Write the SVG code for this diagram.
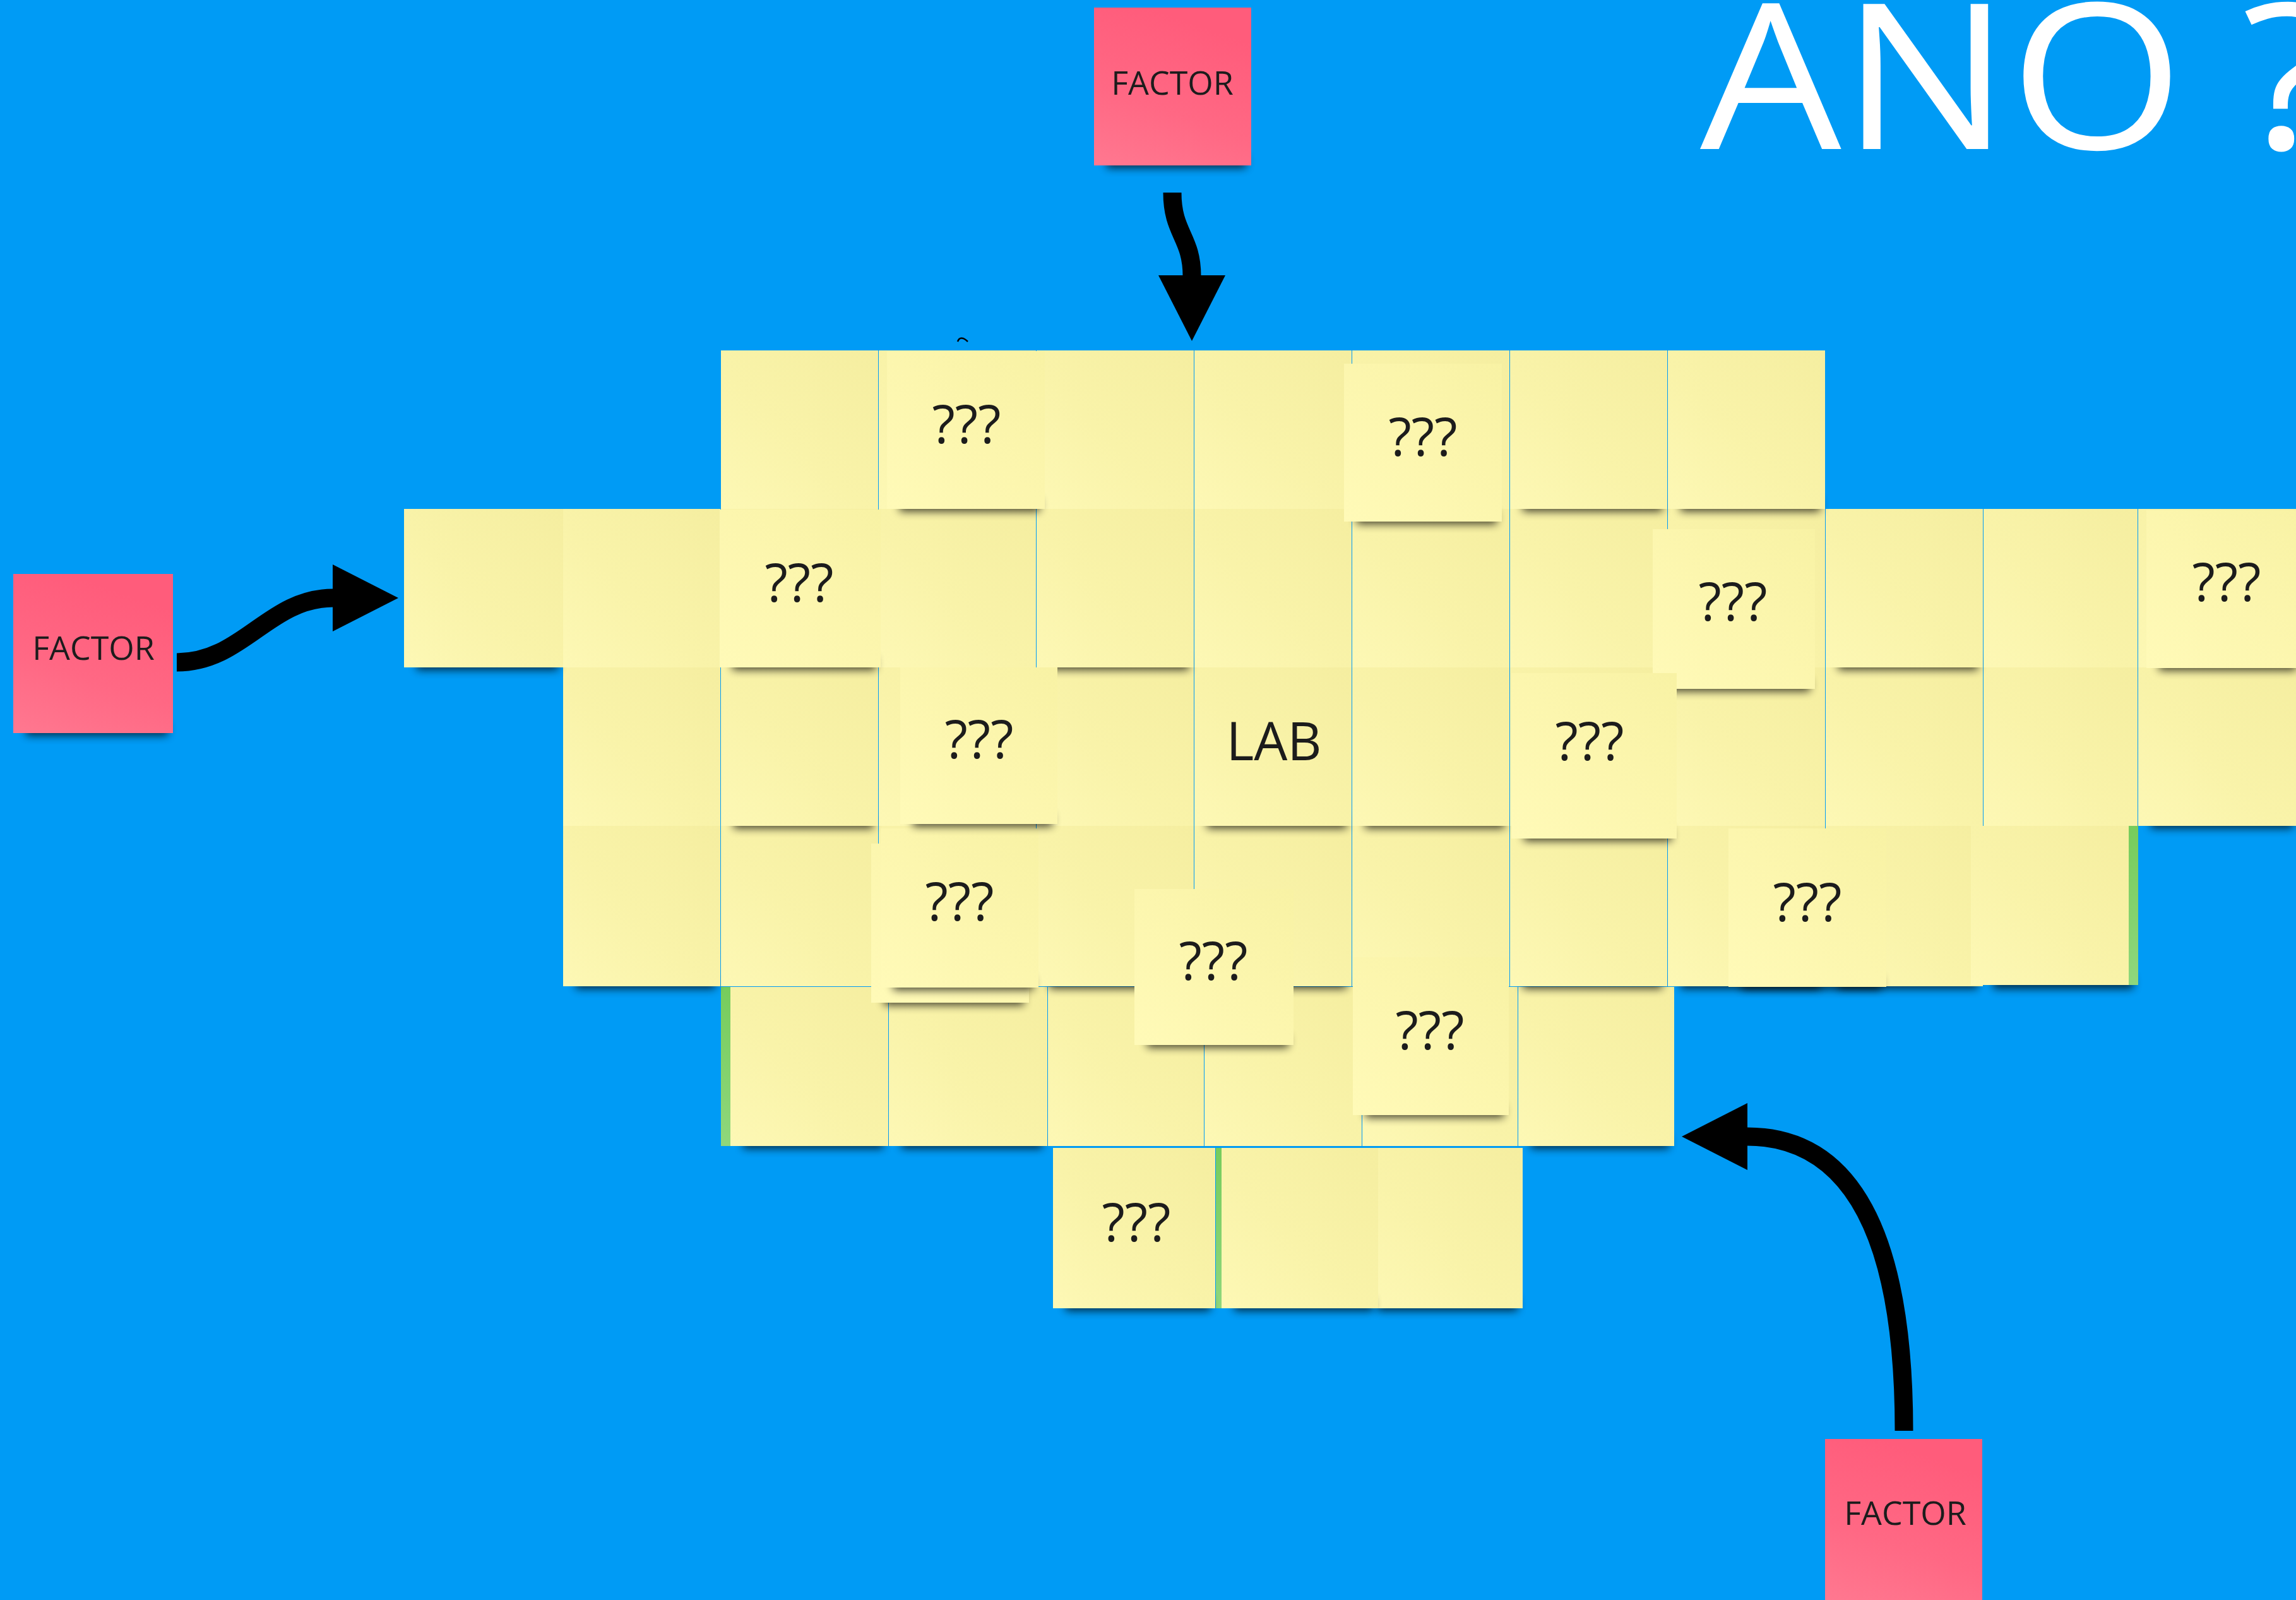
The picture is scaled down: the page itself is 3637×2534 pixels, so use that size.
<svg xmlns="http://www.w3.org/2000/svg" width="3637" height="2534" viewBox="0 0 3637 2534">
<defs>
<linearGradient id="gy" x1="1" y1="0" x2="0" y2="1"><stop offset="0" stop-color="#F5EEA0"/><stop offset="0.55" stop-color="#F9F3A9"/><stop offset="1" stop-color="#FDF8B5"/></linearGradient>
<linearGradient id="go" x1="1" y1="0" x2="0" y2="1"><stop offset="0" stop-color="#F8F2A4"/><stop offset="0.5" stop-color="#FCF6AE"/><stop offset="1" stop-color="#FFFAB8"/></linearGradient>
<linearGradient id="gp" x1="0.35" y1="0" x2="0" y2="1"><stop offset="0" stop-color="#FF5C7B"/><stop offset="0.55" stop-color="#FF6884"/><stop offset="1" stop-color="#FF7890"/></linearGradient>
<linearGradient id="gg" x1="0" y1="0" x2="0" y2="1"><stop offset="0" stop-color="#76CC5C"/><stop offset="1" stop-color="#8FD77C"/></linearGradient>
<filter id="blur" x="-20%" y="-300%" width="140%" height="700%"><feGaussianBlur stdDeviation="7"/></filter>
<marker id="ah" markerUnits="userSpaceOnUse" viewBox="0 0 110 110" markerWidth="110" markerHeight="110" refX="1" refY="53" orient="auto"><path d="M0,0 L104,53 L0,106 Z" fill="#000"/></marker>
</defs>
<style>
.y{fill:url(#gy)}
.o{fill:url(#go)}
.p{fill:url(#gp)}
.g{fill:url(#gg)}
.s{fill:#000;opacity:.72;filter:url(#blur)}
.q{font-family:"Open Sans","Liberation Sans",sans-serif;font-size:84px;fill:#1c1c1c;text-anchor:middle}
.f{font-family:"Open Sans","Liberation Sans",sans-serif;font-size:52px;fill:#1c1c1c;text-anchor:middle}
.t{font-family:"Open Sans","Liberation Sans",sans-serif;font-size:322px;fill:#fff}
.c{fill:none;stroke:#000;stroke-width:29}
</style>
<rect x="0" y="0" width="3637" height="2534" fill="#009BF5"/>
<text class="t" transform="translate(2693,236) scale(1.1,1)">ANO ?</text>

<g id="row5">
<g id="n52"><rect class="s" x="2182" y="2056" width="222" height="20"/><rect class="y" x="2162" y="1818" width="250" height="254"/></g>
<g id="n51"><rect class="s" x="1955" y="2056" width="220" height="20"/><rect class="g" x="1926" y="1818" width="250" height="254"/><rect class="y" x="1935" y="1818" width="248" height="254"/></g>
<g id="n50"><rect class="s" x="1688" y="2056" width="229" height="20"/><rect class="y" x="1668" y="1818" width="257" height="254"/><text class="q" x="1800" y="1966">???</text></g>
</g>

<g id="row4">
<g id="n40"><rect class="s" x="1177" y="1799" width="222" height="20"/><rect class="g" x="1142" y="1563" width="250" height="252"/><rect class="y" x="1157" y="1563" width="250" height="252"/></g>
<g id="n41"><rect class="s" x="1428" y="1799" width="223" height="20"/><rect class="y" x="1408" y="1563" width="251" height="252"/></g>
<g id="n42"><rect class="y" x="1660" y="1563" width="247" height="252"/></g>
<g id="n43"><rect class="y" x="1908" y="1563" width="249" height="252"/></g>
<g id="n44"><rect class="y" x="2158" y="1563" width="246" height="252"/></g>
<g id="n45"><rect class="s" x="2425" y="1799" width="219" height="20"/><rect class="y" x="2405" y="1563" width="247" height="252"/></g>
</g>

<g id="row3">
<g id="n30"><rect class="s" x="912" y="1546" width="221" height="20"/><rect class="y" x="892" y="1308" width="249" height="254"/></g>
<g id="n31"><rect class="y" x="1142" y="1308" width="249" height="254"/></g>
<g id="n32"><rect class="y" x="1392" y="1308" width="249" height="254"/></g>
<g id="n33"><rect class="s" x="1662" y="1546" width="221" height="20"/><rect class="y" x="1642" y="1308" width="249" height="254"/></g>
<g id="n34"><rect class="s" x="1912" y="1546" width="221" height="20" opacity=".4"/><rect class="y" x="1892" y="1308" width="249" height="254"/></g>
<g id="n35"><rect class="y" x="2142" y="1308" width="249" height="254"/></g>
<g id="n36"><rect class="s" x="2412" y="1546" width="221" height="20"/><rect class="y" x="2392" y="1308" width="249" height="254"/></g>
<g id="n37"><rect class="s" x="2662" y="1546" width="221" height="20"/><rect class="y" x="2642" y="1308" width="249" height="254"/></g>
<g id="n38"><rect class="s" x="2912" y="1546" width="221" height="20"/><rect class="y" x="2892" y="1308" width="249" height="254"/></g>
<g id="n39"><rect class="s" x="3157" y="1546" width="222" height="20"/><rect class="g" x="3137" y="1308" width="250" height="252"/><rect class="y" x="3122" y="1308" width="250" height="252"/></g>
</g>

<g id="row2">
<g id="n20"><rect class="y" x="892" y="1057" width="249" height="251"/></g>
<g id="n21"><rect class="s" x="1162" y="1292" width="221" height="20"/><rect class="y" x="1142" y="1057" width="249" height="251"/></g>
<g id="n22"><rect class="y" x="1392" y="1057" width="249" height="251"/></g>
<g id="n23"><rect class="y" x="1642" y="1057" width="249" height="251"/></g>
<g id="n24"><rect class="s" x="1912" y="1292" width="221" height="20"/><rect class="y" x="1892" y="1057" width="249" height="251"/><text class="q" x="2018" y="1204">LAB</text></g>
<g id="n25"><rect class="s" x="2162" y="1292" width="221" height="20"/><rect class="y" x="2142" y="1057" width="249" height="251"/></g>
<g id="n26"><rect class="y" x="2392" y="1057" width="249" height="251"/></g>
<g id="n27"><rect class="y" x="2642" y="1057" width="249" height="251"/></g>
<g id="n28"><rect class="y" x="2892" y="1057" width="249" height="251"/></g>
<g id="n29"><rect class="y" x="3142" y="1057" width="244" height="251"/></g>
<g id="n2a"><rect class="s" x="3407" y="1292" width="225" height="20"/><rect class="y" x="3387" y="1057" width="250" height="251"/></g>
</g>

<g id="row1">
<g id="n10"><rect class="s" x="660" y="1041" width="224" height="20"/><rect class="y" x="640" y="806" width="252" height="251"/></g>
<g id="n11"><rect class="y" x="892" y="806" width="249" height="251"/></g>
<g id="n12"><rect class="y" x="1142" y="806" width="249" height="251"/></g>
<g id="n13"><rect class="y" x="1392" y="806" width="249" height="251"/></g>
<g id="n14"><rect class="s" x="1662" y="1041" width="221" height="20"/><rect class="y" x="1642" y="806" width="249" height="251"/></g>
<g id="n15"><rect class="y" x="1892" y="806" width="249" height="251"/></g>
<g id="n16"><rect class="y" x="2142" y="806" width="249" height="251"/></g>
<g id="n17"><rect class="y" x="2392" y="806" width="249" height="251"/></g>
<g id="n18"><rect class="y" x="2642" y="806" width="249" height="251"/></g>
<g id="n19"><rect class="s" x="2912" y="1041" width="221" height="20"/><rect class="y" x="2892" y="806" width="249" height="251"/></g>
<g id="n1a"><rect class="y" x="3142" y="806" width="244" height="251"/></g>
<g id="n1b"><rect class="y" x="3387" y="806" width="250" height="251"/></g>
</g>

<g id="row0">
<g id="n00"><rect class="y" x="1142" y="555" width="249" height="251"/></g>
<g id="n01"><rect class="y" x="1392" y="555" width="249" height="251"/></g>
<g id="n02"><rect class="y" x="1642" y="555" width="249" height="251"/></g>
<g id="n03"><rect class="y" x="1892" y="555" width="249" height="251"/></g>
<g id="n04"><rect class="y" x="2142" y="555" width="249" height="251"/></g>
<g id="n05"><rect class="s" x="2412" y="790" width="221" height="20"/><rect class="y" x="2392" y="555" width="249" height="251"/></g>
<g id="n06"><rect class="s" x="2662" y="790" width="221" height="20"/><rect class="y" x="2642" y="555" width="249" height="251"/></g>
</g>

<g id="overlays">
<g id="qH2"><rect class="s" x="1400" y="1572" width="222" height="20"/><rect class="o" x="1380" y="1336" width="250" height="252"/></g>
<g id="qH"><rect class="s" x="1415" y="1548" width="222" height="20"/><rect class="o" x="1395" y="1312" width="250" height="252"/><text class="q" x="1520" y="1458">???</text></g>
<g id="qF"><rect class="s" x="1446" y="1289" width="221" height="20"/><rect class="o" x="1426" y="1057" width="249" height="248"/><text class="q" x="1551" y="1201">???</text></g>
<g id="qC"><rect class="s" x="1160" y="1041" width="227" height="20"/><rect class="o" x="1140" y="807" width="255" height="250"/><text class="q" x="1266" y="953">???</text></g>
<g id="qA"><rect class="s" x="1425" y="790" width="222" height="20"/><rect class="o" x="1405" y="556" width="250" height="250"/><text class="q" x="1531" y="702">???</text></g>
<g id="qB"><rect class="s" x="2149" y="810" width="222" height="20"/><rect class="o" x="2129" y="576" width="250" height="250"/><text class="q" x="2254" y="722">???</text></g>
<g id="qD"><rect class="s" x="2638" y="1075" width="229" height="20"/><rect class="o" x="2618" y="838" width="257" height="253"/><text class="q" x="2745" y="983">???</text></g>
<g id="qE"><rect class="s" x="3420" y="1042" width="217" height="20"/><rect class="o" x="3400" y="808" width="250" height="250"/><text class="q" x="3527" y="952">???</text></g>
<g id="qG"><rect class="s" x="2414" y="1312" width="234" height="20"/><rect class="o" x="2394" y="1066" width="262" height="262"/><text class="q" x="2518" y="1204">???</text></g>
<g id="qI"><rect class="s" x="1817" y="1639" width="224" height="20"/><rect class="o" x="1797" y="1408" width="252" height="247"/><text class="q" x="1922" y="1552">???</text></g>
<g id="qJ"><rect class="s" x="2758" y="1547" width="222" height="20"/><rect class="o" x="2738" y="1312" width="250" height="251"/><text class="q" x="2863" y="1459">???</text></g>
<g id="qK"><rect class="s" x="2163" y="1750" width="219" height="20"/><rect class="o" x="2143" y="1516" width="247" height="250"/><text class="q" x="2265" y="1662">???</text></g>
</g>

<g id="factor-top"><rect class="s" x="1753" y="246" width="221" height="20"/><rect class="p" x="1733" y="12" width="249" height="250"/><text class="f" x="1857" y="150">FACTOR</text></g>
<g id="factor-left"><rect class="s" x="41" y="1145" width="225" height="20"/><rect class="p" x="21" y="909" width="253" height="252"/><text class="f" x="148" y="1045">FACTOR</text></g>
<g id="factor-bottom"><rect class="p" x="2891" y="2279" width="249" height="255"/><text class="f" x="3018" y="2415">FACTOR</text></g>

<g id="connectors">
<path class="c" d="M1857,305 C1857,370 1888,375 1888,437" marker-end="url(#ah)"/>
<path class="c" d="M280,1049 C385,1049 425,947 528,947" marker-end="url(#ah)"/>
<path class="c" d="M3016,2266 C3016,1950 2930,1800 2767,1800" marker-end="url(#ah)"/>
</g>
<path d="M1517,541 Q1521,530 1533,541" fill="none" stroke="#000" stroke-width="2.5"/>
</svg>
